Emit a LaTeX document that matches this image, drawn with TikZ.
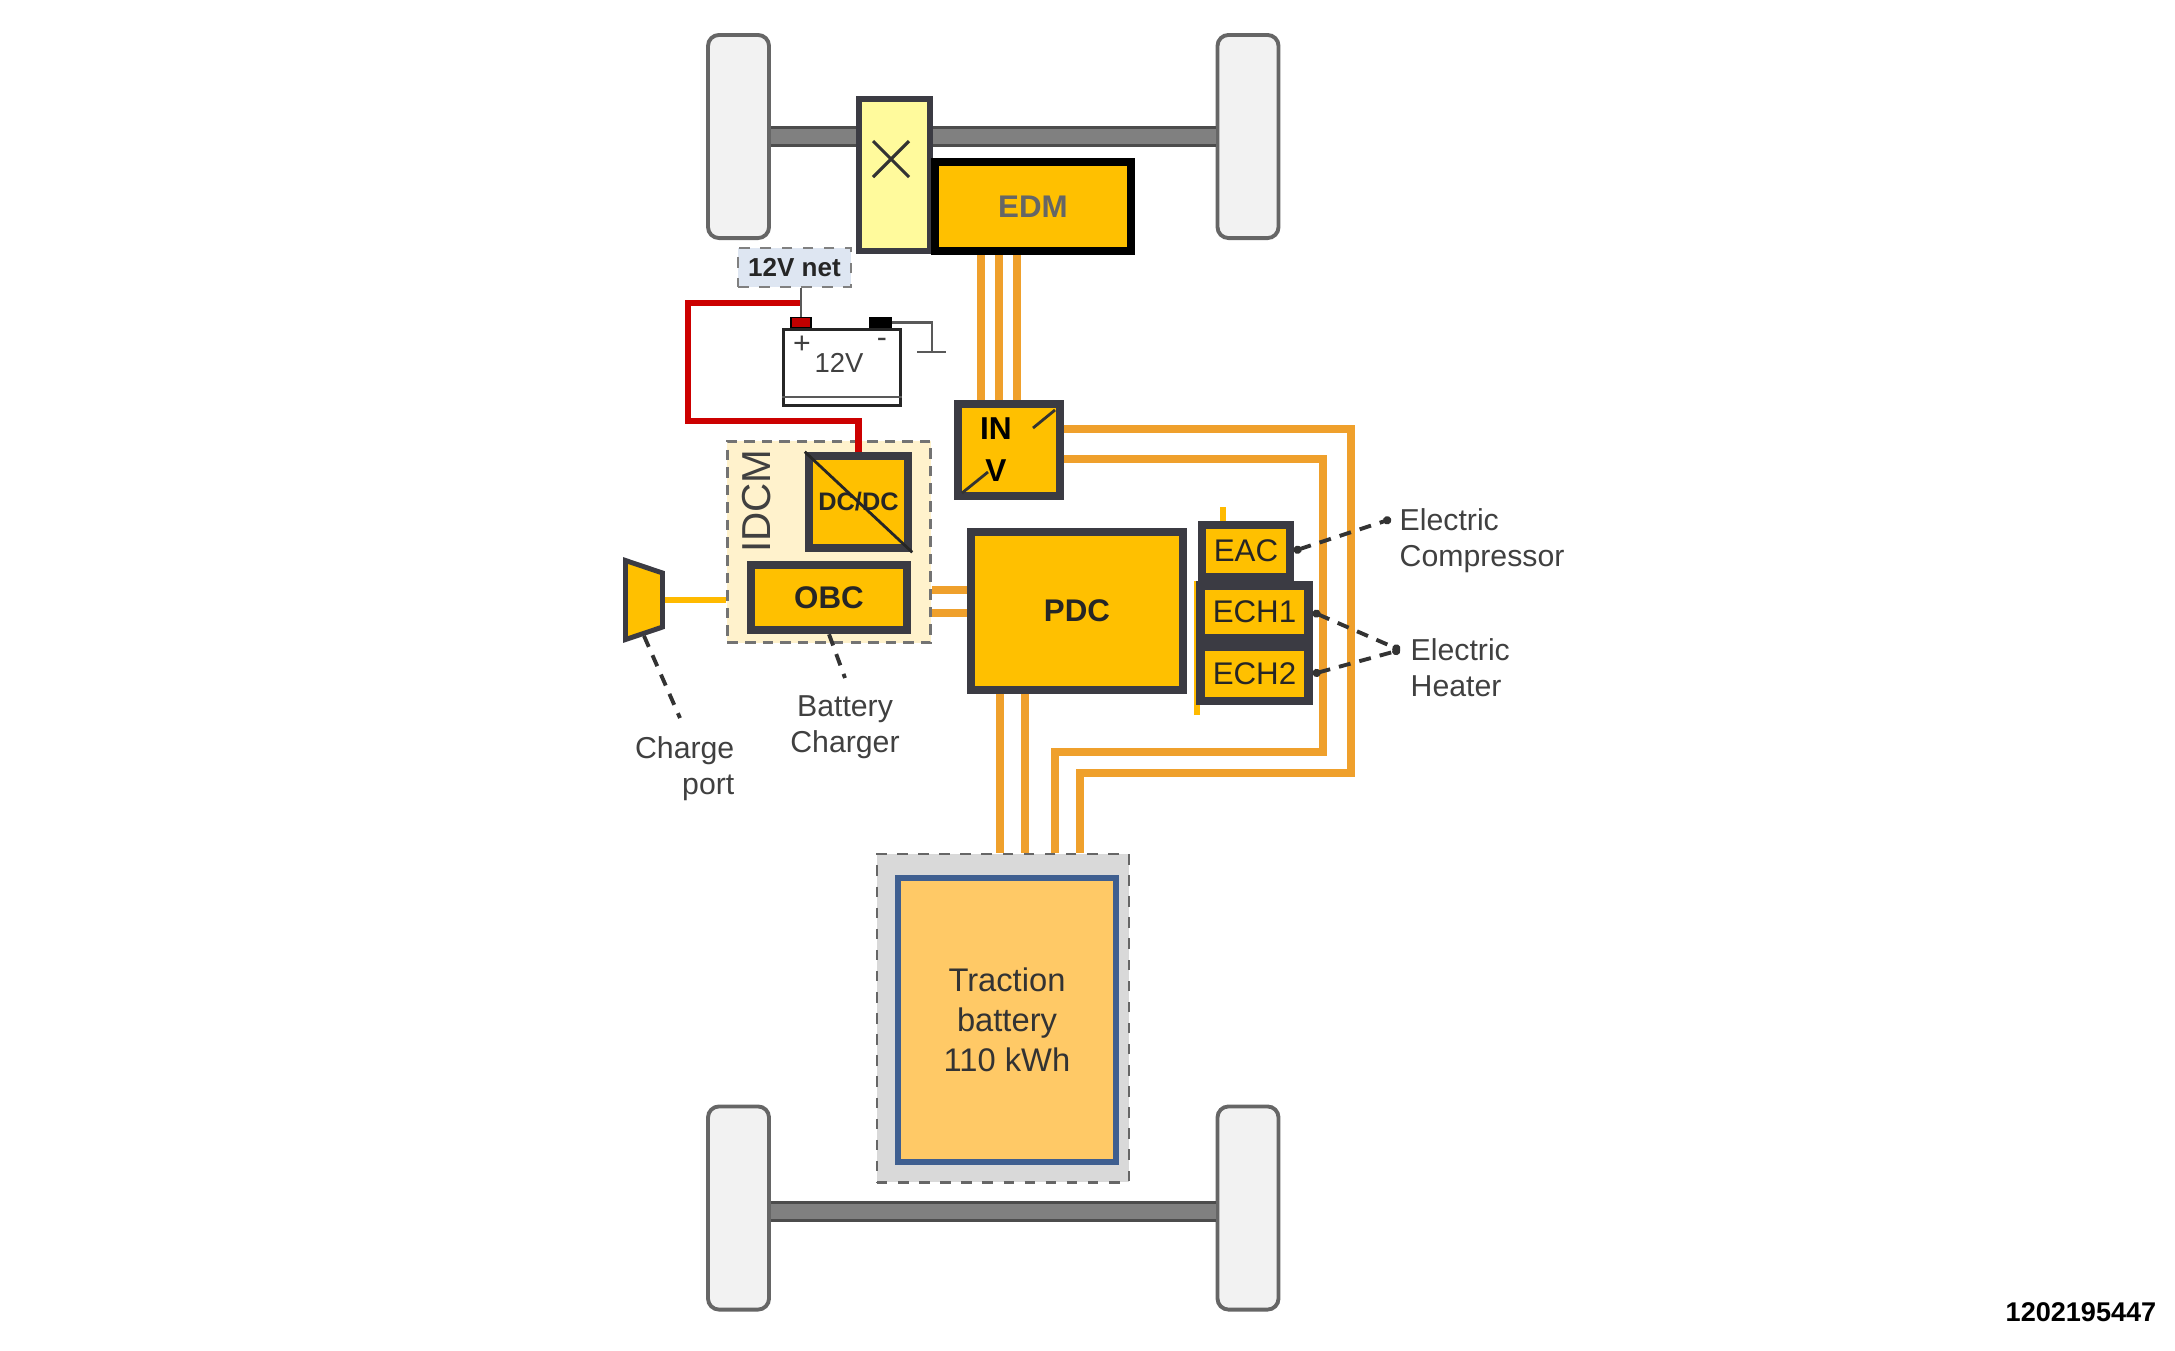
\documentclass[tikz,border=0pt]{standalone}
\usepackage{fontspec}
\setmainfont{Liberation Sans}
\usepackage{xcolor}
\usetikzlibrary{arrows.meta,shapes.geometric}

\definecolor{boxfill}{HTML}{FFC000}
\definecolor{boxline}{HTML}{3B3B43}
\definecolor{hvline}{HTML}{EFA02C}
\definecolor{labelgray}{HTML}{404040}
\definecolor{netfill}{HTML}{DEE6F2}
\definecolor{difffill}{HTML}{FFFA9C}
\definecolor{tracfill}{HTML}{FFC966}
\definecolor{tracline}{HTML}{3F5F90}

\begin{document}
\begin{tikzpicture}[
  x=0.01cm, y=-0.01cm,
  every node/.style={font=\fontsize{8.6}{10.2}\selectfont, text=labelgray, align=center, inner sep=0pt},
  wheel/.style={draw=black!60, line width=1.1pt, rounded corners=1.1mm, fill=black!5, minimum width=0.61cm, minimum height=2.03cm},
  axle/.style={draw=black!70, double=black!50, line width=0.9pt, double distance=4.4pt},
  hub/.style={draw=boxline, line width=2.1pt, fill=boxfill, text=black!85, font=\fontsize{8.9}{10}\selectfont},
  hubbold/.style={hub, font=\fontsize{8.9}{10}\selectfont\bfseries},
  hv/.style={draw=hvline, line width=2.3pt},
  stub/.style={draw=boxfill!90!orange, line width=1.9pt},
  red12/.style={draw=red!80!black, line width=1.8pt},
  lead/.style={draw=black!80, dashed, dash pattern=on 3.4pt off 2.6pt, line width=1.1pt},
  leaddot/.style={lead, {Circle[length=0.8mm]}-{Circle[length=0.8mm]}},
  thin12/.style={draw=black!65, line width=0.8pt}
]
\useasboundingbox (0,0) rectangle (2175,1350);

% wheels and axles
\node[wheel] (wfl) at (738.5,136.5) {};
\node[wheel] (wfr) at (1248,136.5) {};
\node[wheel] (wrl) at (738.5,1208) {};
\node[wheel] (wrr) at (1248,1208) {};
\draw[axle] (wfl.east) -- (wfr.west);
\draw[axle] ([yshift=-0.35mm]wrl.east) -- ([yshift=-0.35mm]wrr.west);

% drive unit
\node[draw=boxline, line width=1.8pt, fill=difffill, minimum width=0.71cm, minimum height=1.52cm] (diff) at (894.5,175) {};
\draw[draw=black!80, line width=0.9pt] (873,141) -- (909,177) (909,141) -- (873,177);
\node[draw=black, line width=2.3pt, fill=boxfill, minimum width=1.96cm, minimum height=0.89cm, text=black!60, font=\fontsize{8.9}{10}\selectfont\bfseries] (edm) at (1033,206.5) {EDM};

% 12V net
\node[draw=black!50, dashed, line width=0.8pt, fill=netfill, minimum width=1.13cm, minimum height=0.39cm, text=black!85, font=\fontsize{7.4}{9}\selectfont\bfseries] (net) at (794.5,267.5) {12V net};
\node[draw=black!85, line width=0.9pt, fill=white, minimum width=1.17cm, minimum height=0.76cm] (batt) at (842,367.5) {};
\node[draw=black, fill=red!75!black, minimum width=0.2cm, minimum height=0.1cm] (pos) at (801,322.5) {};
\node[draw=black, fill=black, minimum width=0.21cm, minimum height=0.1cm] (neg) at (880.5,322.5) {};
\node[font=\fontsize{7.8}{9}\selectfont] (volt) at (839,363) {12V};
\node (plus) at (802,345) {+};
\node (minus) at (882,343) {-};
\draw[thin12] (batt.west |- 0,397) -- (batt.east |- 0,397);
\coordinate (gnd) at (932,352);
\coordinate (gndl) at (917,352);
\coordinate (gndr) at (946,352);
\draw[thin12] (neg.east) -| (gnd);
\draw[thin12] (gndl) -- (gndr);

% power electronics
\node[hubbold, minimum width=1.02cm, minimum height=0.92cm] (inv) at (1009,450) {};
\node[text=black, font=\fontsize{9}{11.9}\selectfont\bfseries] (invtext) at (996,450) {IN\\V};
\draw[thin12, draw=black!80] (962,493) -- (988,472) (1033,428) -- (1055,410);

\node[draw=black!55, dashed, dash pattern=on 3pt off 2pt, line width=0.8pt, fill=boxfill!20!white, minimum width=2.03cm, minimum height=2.01cm] (idcm) at (829,542) {};
\node[rotate=90, text=black!75, font=\fontsize{11.5}{13}\selectfont] (idcmtext) at (757,501) {IDCM};
\node[hubbold, line width=2.4pt, minimum width=0.99cm, minimum height=0.92cm, font=\fontsize{7.2}{9}\selectfont\bfseries] (dcdc) at (858.5,502) {DC/DC};
\draw[thin12, draw=black!85] (dcdc.north west) -- (dcdc.south east);
\node[hubbold, line width=2.4pt, minimum width=1.56cm, minimum height=0.65cm] (obc) at (829,597.5) {OBC};
\node[hubbold, minimum width=2.12cm, minimum height=1.58cm] (pdc) at (1077,611) {PDC};

\node[hub, minimum width=0.88cm, minimum height=0.52cm] (eac) at (1246,551) {EAC};
\coordinate (stubb) at (1197,715);
\coordinate (stubt) at (1223,507);
\draw[stub] (stubb) -- (stubb |- eac.south);
\draw[stub] (stubt) -- (stubt |- eac.north);
\node[hub, line width=2.4pt, minimum width=1.08cm, minimum height=0.53cm] (ech1) at (1254.5,612) {ECH1};
\node[hub, line width=2.4pt, minimum width=1.08cm, minimum height=0.54cm] (ech2) at (1254.5,674) {ECH2};

% traction battery
\node[draw=black!60, dashed, line width=0.8pt, fill=black!15, minimum width=2.52cm, minimum height=3.28cm] (pack) at (1003,1018) {};
\node[draw=tracline, line width=1.8pt, fill=tracfill, minimum width=2.18cm, minimum height=2.84cm, text=black!80, font=\fontsize{9.3}{11.3}\selectfont] (trac) at (1007,1020) {Traction\\battery\\110 kWh};

% HV lines
\foreach \x in {981,999,1017}
  \draw[hv] (\x,0 |- edm.south) -- (\x,0 |- inv.north);
\foreach \x in {1000,1025}
  \draw[hv] (\x,0 |- pdc.south) -- (\x,0 |- pack.north);
\coordinate (busa) at (1351,429);
\coordinate (busb) at (1080,773);
\coordinate (busc) at (1323,459);
\coordinate (busd) at (1055,752);
\draw[hv] (inv.east |- busa) -- (busa) |- (busb) -- (busb |- pack.north);
\draw[hv] (inv.east |- busc) -- (busc) |- (busd) -- (busd |- pack.north);
\coordinate (obca) at (930,590);
\coordinate (obcb) at (930,613);
\draw[hv] (idcm.east |- obca) -- (obca -| pdc.west);
\draw[hv] (idcm.east |- obcb) -- (obcb -| pdc.west);

% 12V wiring
\coordinate (redb) at (688,421);
\coordinate (redc) at (688,303);
\draw[red12] (dcdc.north) |- (redb) -- (redc) -- (redc -| pos.north);
\draw[thin12] (pos.north |- net.south) -- (pos.north);

% charge port
\node[draw=boxline, line width=1.4pt, fill=boxfill, trapezium, inner sep=1pt, rotate=-90, trapezium left angle=77, trapezium right angle=77, trapezium stretches=true, minimum width=0.79cm, minimum height=0.37cm] (port) at (644,600) {};
\draw[stub, line width=1.5pt] (port.north) -- (idcm.west |- port.north);

% labels
\node (portlbl) [anchor=east, align=right] at (735,769) {Charge\\port};
\node (obclbl) at (845,727) {Battery\\Charger};
\node (eaclbl) [anchor=west, align=left] at (1399,541) {Electric\\Compressor};
\node (echlbl) [anchor=west, align=left] at (1410,668) {Electric\\Heater};
\coordinate (portend) at (680,718);
\coordinate (obcend) at (845,678);
\coordinate (eacend) at (1391,519);
\coordinate (echend) at (1400,650);
\draw[lead] (port.east) -- (portend);
\draw[lead] (obc.south) -- (obcend);
\draw[leaddot] (eac.east) -- (eacend);
\draw[leaddot] (ech1.east) -- (echend);
\draw[leaddot] (ech2.east) -- (echend);

\node[anchor=east, text=black, font=\fontsize{7.7}{9}\selectfont\bfseries] (partno) at (2157,1312) {1202195447};
\end{tikzpicture}
\end{document}
